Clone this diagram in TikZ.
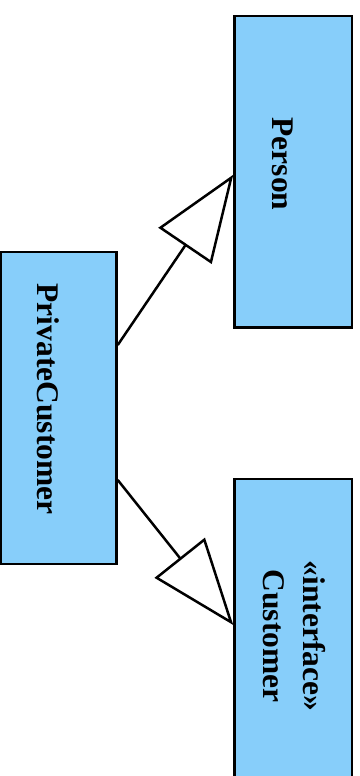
\documentclass[tikz,border=0pt]{standalone}
\usepackage{fontspec}
\setmainfont{Liberation Serif}
\usetikzlibrary{arrows.meta,calc}
\definecolor{boxblue}{RGB}{135,206,250}
\tikzset{
  box/.style={draw=black, fill=boxblue, line width=2.5pt, inner sep=0pt},
  lbl/.style={anchor=base, rotate=-90, inner sep=0pt, font=\fontsize{31.5}{38}\selectfont\bfseries},
  realize/.style={line width=2.5pt, -{Triangle[open, length=86pt, width=64pt]}}
}
\begin{document}
\begin{tikzpicture}[x=1pt,y=1pt]
\clip (0,0) rectangle (359,776);
\fill[white] (0,0) rectangle (359,776);
\node[box, minimum width=117.5pt, minimum height=311.5pt] (Person) at (293.25,604.25) {};
\node[box, minimum width=116pt, minimum height=312pt] (PC) at (58.5,368) {};
\node[box, minimum width=117.5pt, minimum height=321pt] (Customer) at (293.25,136.5) {};
\node[lbl] (tPerson) at (272,612) {Person};
\node[lbl] (tPC) at (37,377) {PrivateCustomer};
\node[lbl] (tIface) at (303,140) {«interface»};
\node[lbl] (tCust) at (263,140) {Customer};
\coordinate (s1) at ($(PC.east)+(0,63)$);
\coordinate (s2) at ($(PC.east)+(0,-72)$);
\coordinate (t1) at ($(Person.west)+(0,-3)$);
\coordinate (t2) at ($(Customer.west)+(0,14.5)$);
\draw[realize] (s1) -- (t1);
\draw[realize] (s2) -- (t2);
\end{tikzpicture}
\end{document}
